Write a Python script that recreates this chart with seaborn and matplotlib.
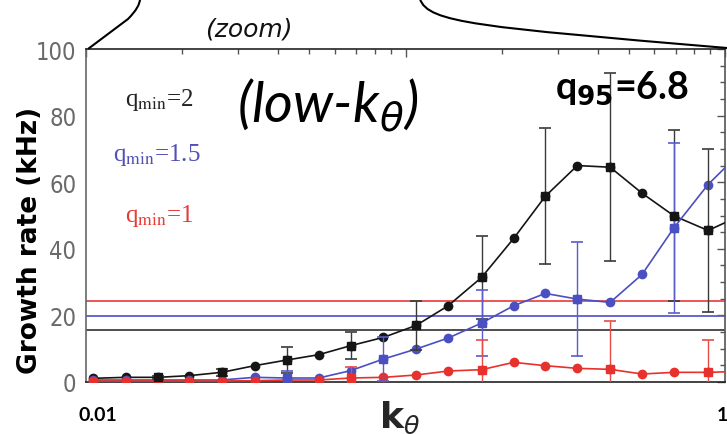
import numpy as np
import pandas as pd
import matplotlib
matplotlib.use("Agg")
import matplotlib.pyplot as plt
import matplotlib.transforms as mtransforms
from matplotlib.path import Path
from matplotlib.patches import PathPatch
from matplotlib.ticker import MultipleLocator, FixedLocator, LogLocator, NullFormatter
import seaborn as sns

nan = np.nan

# ---------------- data ----------------
k_theta = [0.0105, 0.0133, 0.0168, 0.0210, 0.0266, 0.0337, 0.0425, 0.0535, 0.0673,
           0.0853, 0.108, 0.136, 0.173, 0.218, 0.274, 0.345, 0.437, 0.550, 0.692,
           0.885, 1.12]

rate_qmin2 = [1.1, 1.4, 1.4, 1.9, 2.9, 4.9, 6.6, 8.2, 10.9, 13.4, 17.0, 22.9, 31.4,
              43.1, 55.8, 65.0, 64.5, 56.7, 49.9, 45.5, 50.0]
err_qmin2 = [nan, nan, 0.5, nan, 1.0, nan, 3.9, nan, 4.1, nan, 7.3, nan, 12.5, nan,
             20.5, nan, 28.3, nan, 25.7, 24.6, nan]

rate_qmin15 = [0.6, 0.6, 0.6, 0.6, 0.6, 1.4, 1.2, 1.2, 3.4, 6.9, 9.9, 13.2, 17.7,
               22.9, 26.6, 24.9, 23.9, 32.3, 46.3, 59.3, 69.0]
err_qmin15 = [nan, nan, nan, nan, nan, nan, 2.2, nan, nan, 6.7, nan, nan, 10.0, nan,
              nan, 17.0, nan, nan, 25.5, nan, nan]

rate_qmin1 = [0.3, 0.3, 0.3, 0.3, 0.3, 0.4, 0.6, 0.6, 1.2, 1.4, 2.1, 3.3, 3.7, 5.9,
              4.9, 4.1, 3.8, 2.4, 2.9, 2.9, 3.2]
err_qmin1 = [nan, nan, nan, nan, nan, nan, nan, nan, 3.2, nan, nan, nan, 9.0, nan,
             nan, nan, 14.5, nan, nan, 9.7, nan]

series_names = ["2", "1.5", "1"]
threshold_levels = [15.6, 19.8, 24.3]   # horizontal reference lines per q_min
x_ticks = [0.01, 0.1, 1.0]
x_tick_labels = ["0.01", "", "1"]
y_ticks = [0, 20, 40, 60, 80, 100]

# ---------------- style ----------------
sns.set_theme(style="white")
plt.rcParams["font.family"] = ["Lato", "DejaVu Sans"]
plt.rcParams["mathtext.fontset"] = "custom"
plt.rcParams["mathtext.rm"] = "Lato"
plt.rcParams["mathtext.bf"] = "Lato:bold"
plt.rcParams["mathtext.it"] = "Lato:italic"

line_colors = {"2": "#151515", "1.5": "#4a4fc2", "1": "#e8302c"}
err_colors = {"2": "#3a3a3a", "1.5": "#5a5ccc", "1": "#ea4a46"}
hline_colors = {"2": "#404040", "1.5": "#5a5ccc", "1": "#ea4a46"}

W, H = 727, 435
fig = plt.figure(figsize=(W / 100, H / 100), dpi=100)
ax = fig.add_axes([86 / W, 52 / H, 639 / W, 333 / H])

rates = {"2": rate_qmin2, "1.5": rate_qmin15, "1": rate_qmin1}
errs = {"2": err_qmin2, "1.5": err_qmin15, "1": err_qmin1}

df = pd.concat([
    pd.DataFrame({"k": k_theta, "rate": rates[s], "err": errs[s], "q_min": s})
    for s in series_names
], ignore_index=True)

# horizontal reference lines
for s, lvl in zip(series_names, threshold_levels):
    ax.axhline(lvl, color=hline_colors[s], lw=1.3, zorder=1.5)

sns.lineplot(data=df, x="k", y="rate", hue="q_min", hue_order=series_names,
             palette=line_colors, marker="o", markersize=7, markeredgewidth=0,
             linewidth=1.2, estimator=None, sort=False, legend=False, ax=ax, zorder=3)

for s in series_names:
    sub = df[(df["q_min"] == s) & df["err"].notna()]
    ax.errorbar(sub["k"], sub["rate"], yerr=sub["err"], fmt="s",
                color=line_colors[s], mec=line_colors[s], ecolor=err_colors[s],
                elinewidth=1.0, capsize=4.5, capthick=1.2, markersize=6, zorder=4)

ax.set_xscale("log")
ax.set_xlim(0.01, 1.0)
ax.set_ylim(0, 100)

# ticks
ax.xaxis.set_major_locator(FixedLocator(x_ticks))
ax.set_xticklabels(x_tick_labels)
ax.xaxis.set_minor_locator(LogLocator(base=10, subs=np.arange(2, 10)))
ax.xaxis.set_minor_formatter(NullFormatter())
ax.yaxis.set_major_locator(FixedLocator(y_ticks))
ax.yaxis.set_minor_locator(MultipleLocator(5))

ax.tick_params(which="both", direction="in", top=True, right=True, color="#555555")
ax.tick_params(which="major", length=6, width=1.0)
ax.tick_params(which="minor", length=3.5, width=1.0)
ax.tick_params(axis="y", which="both", labelsize=17, labelcolor="#6a6a6a", pad=7)
ax.tick_params(axis="x", which="both", labelsize=14, labelcolor="black", pad=17)
for lab in ax.get_yticklabels():
    lab.set_family(["Liberation Sans Narrow", "DejaVu Sans"])
    lab.set_stretch("condensed")
for lab in ax.get_xticklabels():
    lab.set_fontweight("bold")
first_tick = ax.xaxis.get_major_ticks()[0]
first_tick.label1.set_transform(first_tick.label1.get_transform() +
                                mtransforms.ScaledTranslation(12 / 100, 0, fig.dpi_scale_trans))
last_tick = ax.xaxis.get_major_ticks()[2]
last_tick.label1.set_transform(last_tick.label1.get_transform() +
                               mtransforms.ScaledTranslation(-3 / 100, 0, fig.dpi_scale_trans))

for side, c in [("left", "#666666"), ("right", "#555555"), ("top", "#222222"), ("bottom", "#222222")]:
    ax.spines[side].set_visible(True)
    ax.spines[side].set_color(c)
    ax.spines[side].set_linewidth(1.2)

# axis labels
ax.set_xlabel(r"$\mathbf{k}_{\theta}$", fontsize=26, math_fontfamily="dejavusans")
ax.xaxis.set_label_coords((400 - 86) / 639, -17 / 333)
ax.xaxis.label.set_va("top")
ax.set_ylabel("Growth rate (kHz)", fontsize=19, fontweight="bold", color="black",
              family="DejaVu Sans")
ax.yaxis.set_label_coords((43 - 86) / 639, (383 - 240) / 333)


def fx(x):
    return x / W


def fy(y):
    return 1 - y / H


# in-plot annotations
fig.text(fx(125), fy(100), r"q$_{\rm min}$=2", fontsize=18, color="#222222",
         family="Liberation Serif", math_fontfamily="stix", va="center")
fig.text(fx(113), fy(155), r"q$_{\rm min}$=1.5", fontsize=18, color="#5050b8",
         family="Liberation Serif", math_fontfamily="stix", va="center")
fig.text(fx(125), fy(216), r"q$_{\rm min}$=1", fontsize=18, color="#e83a36",
         family="Liberation Serif", math_fontfamily="stix", va="center")
fig.text(fx(237), fy(105), r"(low-k$_{\theta}$)", fontsize=40, style="italic",
         color="black", math_fontfamily="dejavusans", va="center")
fig.text(fx(555), fy(88), r"q$_{\mathbf{95}}$=6.8", fontsize=27, fontweight="bold",
         color="black", va="center", math_fontfamily="dejavusans")
fig.text(fx(205), fy(30), "(zoom)", fontsize=18, style="italic", color="#111111",
         family="DejaVu Sans", va="center")

# zoom connector curves at the top
pix = mtransforms.Affine2D().scale(1 / W, -1 / H).translate(0, 1) + fig.transFigure
left_curve = Path([(88, 50), (128, 20), (140, 8), (140, 0)],
                  [Path.MOVETO, Path.LINETO, Path.CURVE3, Path.CURVE3])
right_curve = Path([(420, 0), (428, 24), (480, 28), (727, 49)],
                   [Path.MOVETO, Path.CURVE4, Path.CURVE4, Path.CURVE4])
for p in (left_curve, right_curve):
    fig.add_artist(PathPatch(p, transform=pix, fill=False, lw=1.5, color="black"))

fig.savefig("out.png", dpi=100)
